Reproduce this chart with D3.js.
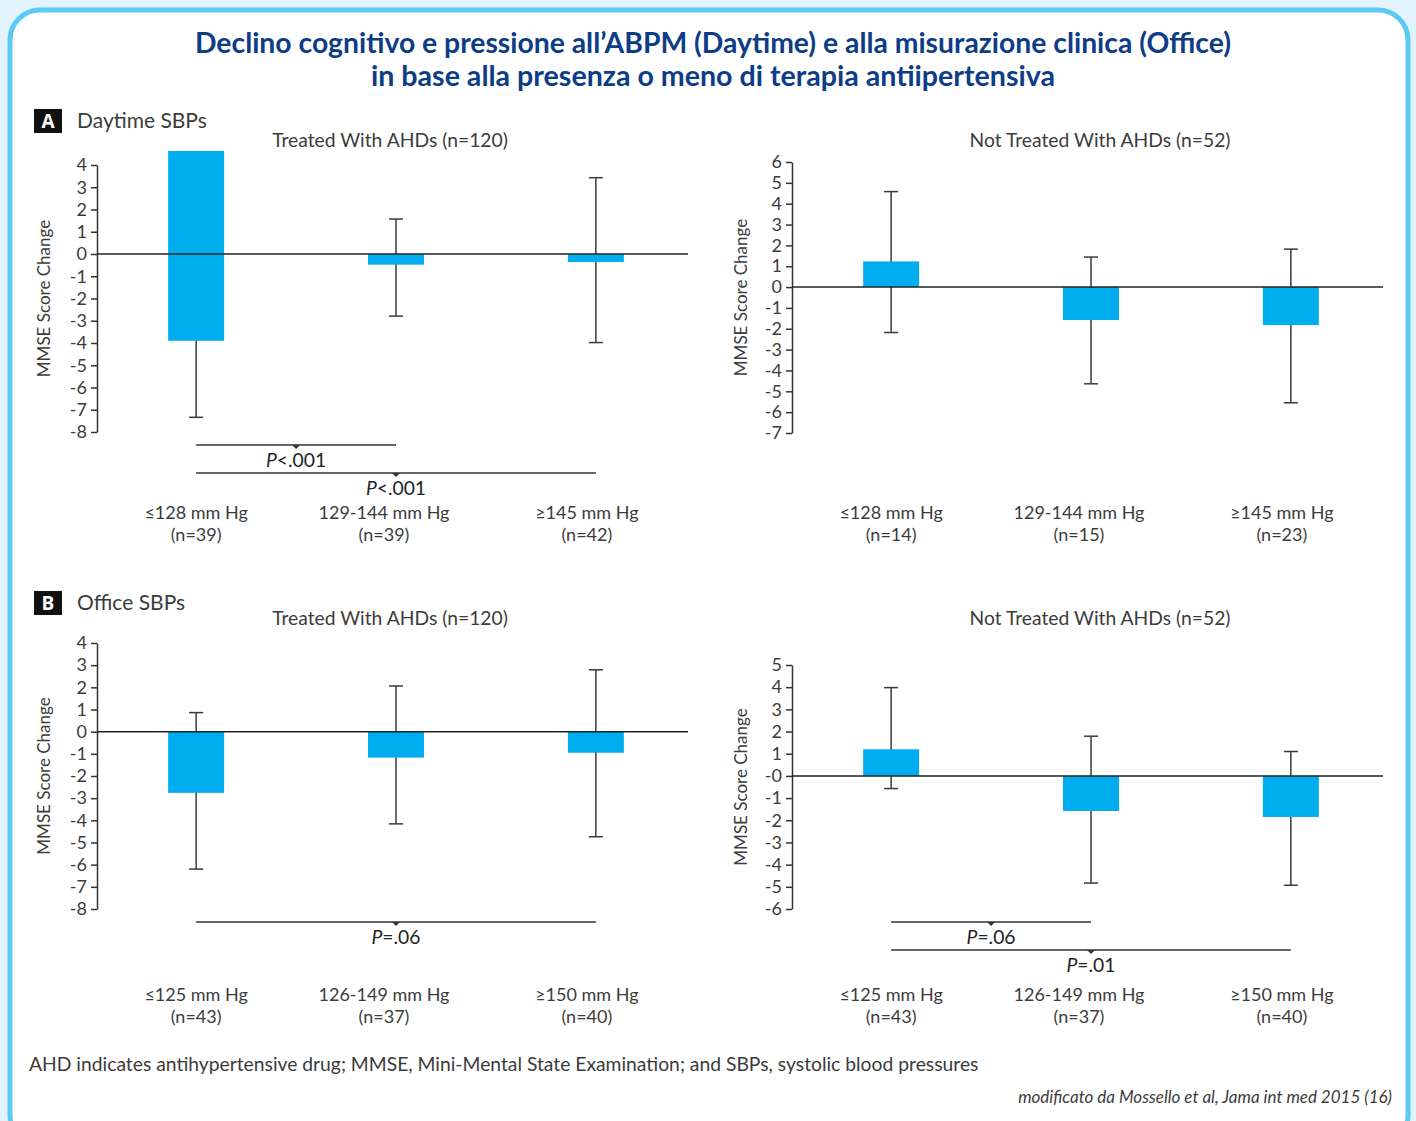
<!DOCTYPE html>
<html>
<head>
<meta charset="utf-8">
<script src="https://cdn.jsdelivr.net/npm/d3@7/dist/d3.min.js"></script>
<style>
  html, body { margin: 0; padding: 0; background: #e3f3fb; }
  svg { display: block; }
</style>
</head>
<body>
<svg id="chart" width="1416" height="1121"></svg>
<script>
// ---- Data -------------------------------------------------------------
const daytimeTreatedCats   = ["≤128 mm Hg", "129-144 mm Hg", "≥145 mm Hg"];
const daytimeTreatedN      = ["(n=39)", "(n=39)", "(n=42)"];
const daytimeTreatedMean   = [-3.9, -0.48, -0.36];
const daytimeTreatedBase   = [4.63, 0, 0];
const daytimeTreatedLow    = [-7.34, -2.79, -3.98];
const daytimeTreatedHigh   = [-0.46, 1.57, 3.43];
const daytimeTreatedTicks  = ["4","3","2","1","0","-1","-2","-3","-4","-5","-6","-7","-8"];
const daytimeTreatedP      = [{from: 0, to: 1, label: "<.001"}, {from: 0, to: 2, label: "<.001"}];

const daytimeUntreatedCats  = ["≤128 mm Hg", "129-144 mm Hg", "≥145 mm Hg"];
const daytimeUntreatedN     = ["(n=14)", "(n=15)", "(n=23)"];
const daytimeUntreatedMean  = [1.23, -1.58, -1.82];
const daytimeUntreatedBase  = [0, 0, 0];
const daytimeUntreatedLow   = [-2.18, -4.64, -5.55];
const daytimeUntreatedHigh  = [4.58, 1.44, 1.82];
const daytimeUntreatedTicks = ["6","5","4","3","2","1","0","-1","-2","-3","-4","-5","-6","-7"];
const daytimeUntreatedP     = [];

const officeTreatedCats   = ["≤125 mm Hg", "126-149 mm Hg", "≥150 mm Hg"];
const officeTreatedN      = ["(n=43)", "(n=37)", "(n=40)"];
const officeTreatedMean   = [-2.76, -1.17, -0.95];
const officeTreatedBase   = [0, 0, 0];
const officeTreatedLow    = [-6.2, -4.16, -4.74];
const officeTreatedHigh   = [0.86, 2.06, 2.79];
const officeTreatedTicks  = ["4","3","2","1","0","-1","-2","-3","-4","-5","-6","-7","-8"];
const officeTreatedP      = [{from: 0, to: 2, label: "=.06"}];

const officeUntreatedCats  = ["≤125 mm Hg", "126-149 mm Hg", "≥150 mm Hg"];
const officeUntreatedN     = ["(n=43)", "(n=37)", "(n=40)"];
const officeUntreatedMean  = [1.2, -1.58, -1.85];
const officeUntreatedBase  = [0, 0, 0];
const officeUntreatedLow   = [-0.57, -4.83, -4.93];
const officeUntreatedHigh  = [3.98, 1.79, 1.1];
const officeUntreatedTicks = ["5","4","3","2","1","-0","-1","-2","-3","-4","-5","-6"];
const officeUntreatedP     = [{from: 0, to: 1, label: "=.06"}, {from: 0, to: 2, label: "=.01"}];

// ---- Styles -----------------------------------------------------------
const BODY_FONT = "Lato, 'Open Sans', sans-serif";
const TEXT_COL = "#3c3c3c";
const BAR_COL = "#00aeef";
const LINE_COL = "#333";
const LABEL_SIZE = 19.3;
const CAT_SIZE = 18;

const svg = d3.select("#chart");

// frame
svg.append("rect")
  .attr("x", 10).attr("y", 10).attr("width", 1398).attr("height", 1135)
  .attr("rx", 30).attr("ry", 30)
  .attr("fill", "#ffffff").attr("stroke", "#5ccaf3").attr("stroke-width", 5);

// main title
const title = svg.append("text")
  .attr("text-anchor", "middle")
  .attr("font-family", "Lato, sans-serif")
  .attr("font-weight", 700).attr("font-size", 28).attr("fill", "#0d3d86");
title.append("tspan").attr("x", 713).attr("y", 53)
  .attr("textLength", 1036).attr("lengthAdjust", "spacingAndGlyphs")
  .text("Declino cognitivo e pressione all’ABPM (Daytime) e alla misurazione clinica (Office)");
title.append("tspan").attr("x", 713).attr("y", 86)
  .attr("textLength", 684).attr("lengthAdjust", "spacingAndGlyphs")
  .text("in base alla presenza o meno di terapia antiipertensiva");

// section labels
function sectionLabel(letter, text, y) {
  svg.append("rect").attr("x", 34).attr("y", y - 12).attr("width", 28).attr("height", 24).attr("fill", "#111");
  svg.append("text").attr("x", 48).attr("y", y + 7).attr("text-anchor", "middle")
    .attr("font-family", "'Open Sans', sans-serif").attr("font-weight", 700)
    .attr("font-size", 19).attr("fill", "#fff").text(letter);
  svg.append("text").attr("x", 77).attr("y", y + 7)
    .attr("font-family", BODY_FONT).attr("font-size", 21).attr("fill", TEXT_COL).text(text);
}
sectionLabel("A", "Daytime SBPs", 121);
sectionLabel("B", "Office SBPs", 603);

// ---- Panel drawing ------------------------------------------------------
function drawPanel(p) {
  const g = svg.append("g");
  const y = d3.scaleLinear().domain(p.yDomain).range(p.yRange);
  const x = d3.scaleBand().domain(d3.range(p.cats.length))
    .range([p.x0, p.x0 + 598]).paddingInner(0.72).paddingOuter(0.356);
  const cx = i => x(i) + x.bandwidth() / 2;

  // panel title
  g.append("text").attr("x", p.titleX).attr("y", p.titleY).attr("text-anchor", "middle")
    .attr("font-family", BODY_FONT).attr("font-size", LABEL_SIZE).attr("fill", TEXT_COL).text(p.title);

  // y axis
  const tickVals = p.ticks.map(t => +t);
  const axis = d3.axisLeft(y).tickValues(tickVals).tickSize(6).tickSizeOuter(0)
    .tickFormat((d, i) => p.ticks[i]);
  const ax = g.append("g").attr("transform", `translate(${p.x0},0)`).call(axis);
  ax.select(".domain").attr("stroke", LINE_COL).attr("stroke-width", 1.5);
  ax.selectAll(".tick line").attr("stroke", LINE_COL).attr("stroke-width", 1.5);
  ax.selectAll(".tick text").attr("font-family", BODY_FONT).attr("font-size", 18)
    .attr("fill", TEXT_COL).attr("x", -10);

  // y axis title
  const yMid = (p.yRange[0] + p.yRange[1]) / 2;
  g.append("text").attr("transform", `translate(${p.yTitleX},${yMid}) rotate(-90)`)
    .attr("text-anchor", "middle").attr("dy", "0.35em")
    .attr("font-family", BODY_FONT).attr("font-size", 17).attr("fill", TEXT_COL)
    .text("MMSE Score Change");

  const idx = d3.range(p.cats.length);

  // error bars
  const eb = g.append("g").attr("stroke", "#3a3a3a").attr("stroke-width", 1.5);
  eb.selectAll("line.v").data(idx).join("line").attr("class", "v")
    .attr("x1", cx).attr("x2", cx)
    .attr("y1", i => y(p.high[i])).attr("y2", i => y(p.low[i]));
  eb.selectAll("line.hi").data(idx).join("line").attr("class", "hi")
    .attr("x1", i => cx(i) - 7).attr("x2", i => cx(i) + 7)
    .attr("y1", i => y(p.high[i])).attr("y2", i => y(p.high[i]));
  eb.selectAll("line.lo").data(idx).join("line").attr("class", "lo")
    .attr("x1", i => cx(i) - 7).attr("x2", i => cx(i) + 7)
    .attr("y1", i => y(p.low[i])).attr("y2", i => y(p.low[i]));

  // bars
  g.selectAll("rect.bar").data(idx).join("rect").attr("class", "bar")
    .attr("x", i => x(i)).attr("width", x.bandwidth())
    .attr("y", i => y(Math.max(p.base[i], p.mean[i])))
    .attr("height", i => Math.abs(y(p.base[i]) - y(p.mean[i])))
    .attr("fill", BAR_COL);

  // zero line
  g.append("line").attr("x1", p.x0).attr("x2", p.x0 + 591)
    .attr("y1", y(0)).attr("y2", y(0))
    .attr("stroke", "#222").attr("stroke-width", 1.5);

  // significance brackets
  p.brackets.forEach((b, k) => {
    const by = p.yRange[0] + 13 + k * 28;
    const xa = cx(b.from), xb = cx(b.to), xm = (xa + xb) / 2;
    g.append("line").attr("x1", xa).attr("x2", xb).attr("y1", by).attr("y2", by)
      .attr("stroke", LINE_COL).attr("stroke-width", 1.5);
    g.append("path").attr("d", `M${xm - 4},${by} L${xm + 4},${by} L${xm},${by + 4} Z`).attr("fill", LINE_COL);
    const t = g.append("text").attr("x", xm).attr("y", by + 22).attr("text-anchor", "middle")
      .attr("font-family", BODY_FONT).attr("font-size", LABEL_SIZE).attr("fill", "#222");
    t.append("tspan").attr("font-style", "italic").text("P");
    t.append("tspan").text(b.label);
  });

  // category labels: range on the first line, group size on the second
  const cl = g.append("g").attr("font-family", BODY_FONT).attr("font-size", CAT_SIZE)
    .attr("fill", TEXT_COL).attr("text-anchor", "middle");
  cl.selectAll("text.c").data(idx).join("text").attr("class", "c")
    .attr("x", i => cx(i) + p.labelShift[i]).attr("y", p.catY).text(i => p.cats[i]);
  cl.selectAll("text.n").data(idx).join("text").attr("class", "n")
    .attr("x", i => cx(i) + p.labelShift[i]).attr("y", p.catY + 22).text(i => p.n[i]);
}

const shift = [0, -12, -9];

drawPanel({
  x0: 97, yDomain: [-8, 4], yRange: [432, 165], ticks: daytimeTreatedTicks,
  cats: daytimeTreatedCats, n: daytimeTreatedN, mean: daytimeTreatedMean, base: daytimeTreatedBase,
  low: daytimeTreatedLow, high: daytimeTreatedHigh, brackets: daytimeTreatedP, labelShift: shift,
  title: "Treated With AHDs (n=120)", titleX: 390, titleY: 147, catY: 519, yTitleX: 44
});
drawPanel({
  x0: 792, yDomain: [-7, 6], yRange: [433, 162], ticks: daytimeUntreatedTicks,
  cats: daytimeUntreatedCats, n: daytimeUntreatedN, mean: daytimeUntreatedMean, base: daytimeUntreatedBase,
  low: daytimeUntreatedLow, high: daytimeUntreatedHigh, brackets: daytimeUntreatedP, labelShift: shift,
  title: "Not Treated With AHDs (n=52)", titleX: 1100, titleY: 147, catY: 519, yTitleX: 741
});
drawPanel({
  x0: 97, yDomain: [-8, 4], yRange: [909, 643], ticks: officeTreatedTicks,
  cats: officeTreatedCats, n: officeTreatedN, mean: officeTreatedMean, base: officeTreatedBase,
  low: officeTreatedLow, high: officeTreatedHigh, brackets: officeTreatedP, labelShift: shift,
  title: "Treated With AHDs (n=120)", titleX: 390, titleY: 625, catY: 1001, yTitleX: 44
});
drawPanel({
  x0: 792, yDomain: [-6, 5], yRange: [909, 665], ticks: officeUntreatedTicks,
  cats: officeUntreatedCats, n: officeUntreatedN, mean: officeUntreatedMean, base: officeUntreatedBase,
  low: officeUntreatedLow, high: officeUntreatedHigh, brackets: officeUntreatedP, labelShift: shift,
  title: "Not Treated With AHDs (n=52)", titleX: 1100, titleY: 625, catY: 1001, yTitleX: 741
});

// footnotes
svg.append("text").attr("x", 29).attr("y", 1071)
  .attr("font-family", BODY_FONT).attr("font-size", LABEL_SIZE).attr("fill", TEXT_COL)
  .text("AHD indicates antihypertensive drug; MMSE, Mini-Mental State Examination; and SBPs, systolic blood pressures");
svg.append("text").attr("x", 1392).attr("y", 1103).attr("text-anchor", "end")
  .attr("font-family", BODY_FONT).attr("font-style", "italic").attr("font-size", 17).attr("fill", TEXT_COL)
  .text("modificato da Mossello et al, Jama int med 2015 (16)");
</script>
</body>
</html>
